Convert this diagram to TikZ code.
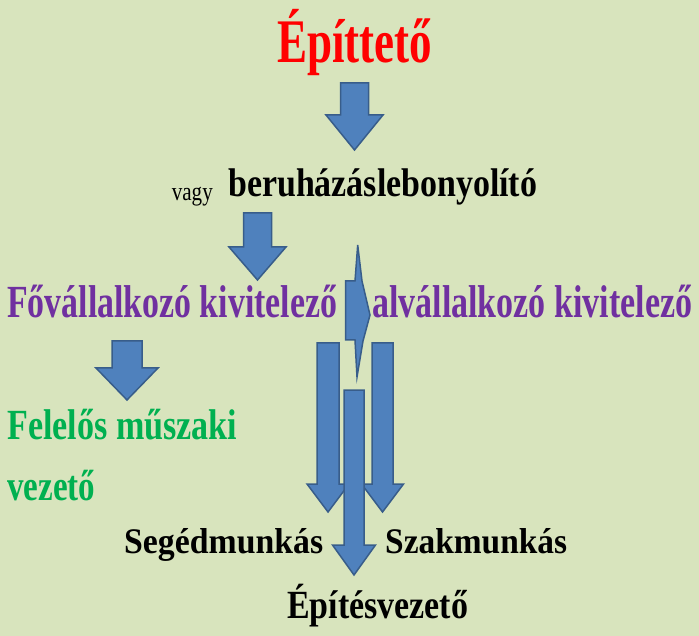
\documentclass[tikz,border=0pt]{standalone}
\usepackage{fontspec}
\setmainfont{Liberation Serif}
\usetikzlibrary{positioning}
\definecolor{hatter}{RGB}{216,228,189}
\definecolor{nyilkek}{RGB}{79,129,189}
\definecolor{nyilvonal}{RGB}{56,93,138}
\definecolor{lila}{RGB}{112,48,160}
\definecolor{zold}{RGB}{0,176,80}

% text squeezed to a given width
\newcommand{\szelesseg}[2]{\resizebox{#1}{\height}{#2}}
% down block arrow: x, top, shoulder, tip, half shaft, half head
\newcommand{\lenyil}[6]{%
  \filldraw[tomor] (#1-#5,#2) -- (#1+#5,#2) -- (#1+#5,#3) -- (#1+#6,#3)
    -- (#1,#4) -- (#1-#6,#3) -- (#1-#5,#3) -- cycle;}

\begin{document}
\begin{tikzpicture}[x=1pt,y=-1pt,
    tomor/.style={fill=nyilkek,draw=nyilvonal,line width=1.5pt},
    felirat/.style={anchor=base west,inner sep=0pt,font=\bfseries\fontsize{#1}{#1}\selectfont}]
   \fill[hatter] (0,0) rectangle (699,636);
   \useasboundingbox (0,0) rectangle (699,636);

   % nyilak
   \lenyil{354.5}{83}{115}{150}{14}{28.5}
   \lenyil{257.5}{213}{247}{280}{14}{28.5}
   \lenyil{127}{341}{368}{400}{15}{31}
   \filldraw[tomor] (357.7,245) -- (362,281) -- (370,315) -- (363,341) -- (357,377)
     -- (355,340) -- (345.7,340) -- (345.7,281) -- (355,281) -- cycle;
   \lenyil{328}{343}{484}{512}{11}{21}
   \lenyil{382.5}{343}{484}{512}{10.5}{21}
   \lenyil{354}{390}{545}{575}{10}{21.5}

   % feliratok
   \node[felirat=62,text=red] (epitteto) at (277,63) {\szelesseg{155pt}{Építtető}};
   \node[felirat=40] (lebonyolito) at (228,197) {\szelesseg{309pt}{beruházáslebonyolító}};
   \node[felirat=26,font=\fontsize{26}{26}\selectfont,anchor=base east] (vagy)
     [left=15pt of lebonyolito.base west] {\szelesseg{41pt}{vagy}};
   \node[felirat=46,text=lila] (fovallalkozo) at (7,318) {\szelesseg{330pt}{Fővállalkozó kivitelező}};
   \node[felirat=46,text=lila] (alvallalkozo) at (372,318) {\szelesseg{320pt}{alvállalkozó kivitelező}};
   \node[felirat=43,text=zold] (felelos) at (7,439) {\szelesseg{230pt}{Felelős műszaki}};
   \node[felirat=43,text=zold] (vezeto) at (7,500) {\szelesseg{88pt}{vezető}};
   \node[felirat=36] (segedmunkas) at (124,553) {\szelesseg{199pt}{Segédmunkás}};
   \node[felirat=36] (szakmunkas) at (385,553) {\szelesseg{182pt}{Szakmunkás}};
   \node[felirat=40] (epitesvezeto) at (287,618) {\szelesseg{181pt}{Építésvezető}};
\end{tikzpicture}
\end{document}
